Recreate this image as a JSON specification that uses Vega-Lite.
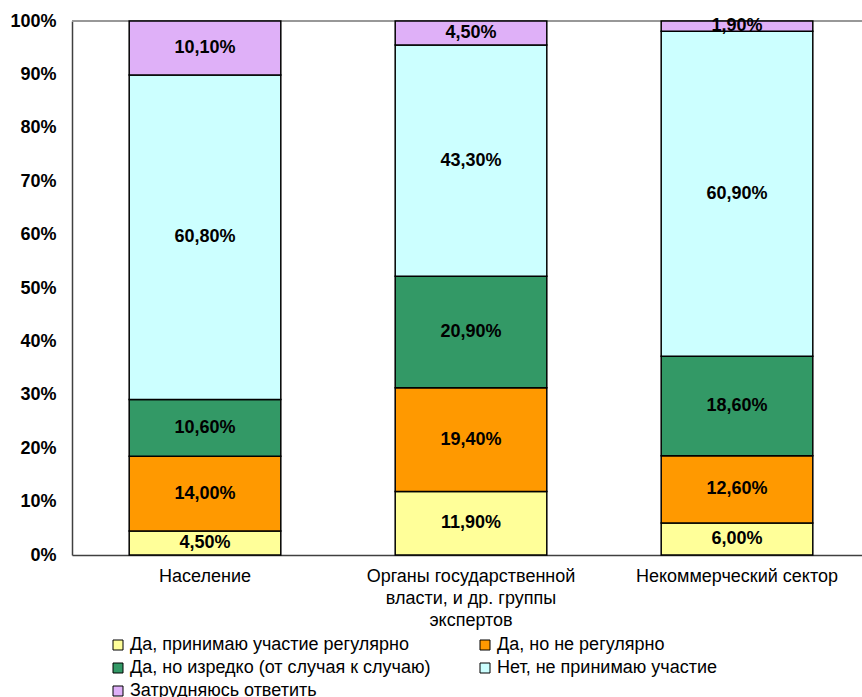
{
  "$schema": "https://vega.github.io/schema/vega-lite/v6.json",
  "autosize": "none",
  "width": 790,
  "height": 534,
  "padding": {"left": 72, "top": 21, "right": 0, "bottom": 142},
  "background": "white",
  "config": {
    "font": "Liberation Sans",
    "view": {"stroke": null}
  },
  "data": {
    "values": [
      {"cat": "Население", "answer": "Да, принимаю участие регулярно", "k": 1, "v": 4.5, "lab": "4,50%"},
      {"cat": "Население", "answer": "Да, но не регулярно", "k": 2, "v": 14.0, "lab": "14,00%"},
      {"cat": "Население", "answer": "Да, но изредко (от случая к случаю)", "k": 3, "v": 10.6, "lab": "10,60%"},
      {"cat": "Население", "answer": "Нет, не принимаю участие", "k": 4, "v": 60.8, "lab": "60,80%"},
      {"cat": "Население", "answer": "Затрудняюсь ответить", "k": 5, "v": 10.1, "lab": "10,10%"},
      {"cat": "Органы государственной власти, и др. группы экспертов", "answer": "Да, принимаю участие регулярно", "k": 1, "v": 11.9, "lab": "11,90%"},
      {"cat": "Органы государственной власти, и др. группы экспертов", "answer": "Да, но не регулярно", "k": 2, "v": 19.4, "lab": "19,40%"},
      {"cat": "Органы государственной власти, и др. группы экспертов", "answer": "Да, но изредко (от случая к случаю)", "k": 3, "v": 20.9, "lab": "20,90%"},
      {"cat": "Органы государственной власти, и др. группы экспертов", "answer": "Нет, не принимаю участие", "k": 4, "v": 43.3, "lab": "43,30%"},
      {"cat": "Органы государственной власти, и др. группы экспертов", "answer": "Затрудняюсь ответить", "k": 5, "v": 4.5, "lab": "4,50%"},
      {"cat": "Некоммерческий сектор", "answer": "Да, принимаю участие регулярно", "k": 1, "v": 6.0, "lab": "6,00%"},
      {"cat": "Некоммерческий сектор", "answer": "Да, но не регулярно", "k": 2, "v": 12.6, "lab": "12,60%"},
      {"cat": "Некоммерческий сектор", "answer": "Да, но изредко (от случая к случаю)", "k": 3, "v": 18.6, "lab": "18,60%"},
      {"cat": "Некоммерческий сектор", "answer": "Нет, не принимаю участие", "k": 4, "v": 60.9, "lab": "60,90%"},
      {"cat": "Некоммерческий сектор", "answer": "Затрудняюсь ответить", "k": 5, "v": 1.9, "lab": "1,90%"}
    ]
  },
  "transform": [
    {"stack": "v", "groupby": ["cat"], "sort": [{"field": "k", "order": "ascending"}], "as": ["y0", "y1"]}
  ],
  "encoding": {
    "x": {
      "field": "cat",
      "type": "nominal",
      "sort": null,
      "scale": {"range": [0, 798], "paddingInner": 0.43, "paddingOuter": 0.215},
      "axis": {
        "title": null,
        "labelAngle": 0,
        "ticks": false,
        "domainColor": "#404040",
        "domainWidth": 1.5,
        "labelFontSize": 18,
        "labelColor": "black",
        "labelPadding": 12,
        "labelLineHeight": 22,
        "labelLimit": 0,
        "labelExpr": "datum.value == 'Органы государственной власти, и др. группы экспертов' ? ['Органы государственной', 'власти, и др. группы', 'экспертов'] : datum.value"
      }
    }
  },
  "layer": [
    {
      "mark": {"type": "rule", "color": "#999999", "strokeWidth": 1.5},
      "encoding": {"y": {"datum": 100, "type": "quantitative", "scale": {"domain": [0, 100]}}, "x": {"value": 0}, "x2": {"value": 790}}
    },
    {
      "mark": {"type": "bar", "stroke": "black", "strokeWidth": 1.5},
      "encoding": {
        "y": {
          "field": "y0",
          "type": "quantitative",
          "scale": {"domain": [0, 100], "nice": false},
          "axis": {
            "title": null,
            "values": [0, 10, 20, 30, 40, 50, 60, 70, 80, 90, 100],
            "labelExpr": "datum.value + '%'",
            "ticks": false,
            "grid": false,
            "domainColor": "#404040",
            "domainWidth": 1.5,
            "labelFontSize": 18,
            "labelFontWeight": "bold",
            "labelColor": "black",
            "labelPadding": 16
          }
        },
        "y2": {"field": "y1"},
        "color": {
          "field": "answer",
          "type": "nominal",
          "sort": ["Да, принимаю участие регулярно", "Да, но не регулярно", "Да, но изредко (от случая к случаю)", "Нет, не принимаю участие", "Затрудняюсь ответить"],
          "scale": {
            "domain": ["Да, принимаю участие регулярно", "Да, но не регулярно", "Да, но изредко (от случая к случаю)", "Нет, не принимаю участие", "Затрудняюсь ответить"],
            "range": ["#FFFF99", "#FF9900", "#339966", "#CCFFFF", "#DFB0F8"]
          },
          "legend": {
            "title": null,
            "orient": "none",
            "legendX": 37,
            "legendY": 615,
            "columns": 2,
            "direction": "horizontal",
            "symbolType": "square",
            "symbolSize": 100,
            "symbolStrokeColor": "black",
            "symbolStrokeWidth": 1,
            "labelFontSize": 18,
            "labelColor": "black",
            "labelLimit": 0,
            "labelOffset": 3,
            "rowPadding": 5,
            "columnPadding": 45,
            "fillColor": "white"
          }
        }
      }
    },
    {
      "transform": [
        {"fold": ["y0", "y1"], "as": ["edge", "yy"]}
      ],
      "mark": {"type": "text", "fontSize": 18, "fontWeight": "bold", "color": "black", "baseline": "middle"},
      "encoding": {
        "y": {"aggregate": "mean", "field": "yy", "type": "quantitative"},
        "text": {"field": "lab", "type": "nominal"},
        "detail": {"field": "answer", "type": "nominal"}
      }
    }
  ]
}
